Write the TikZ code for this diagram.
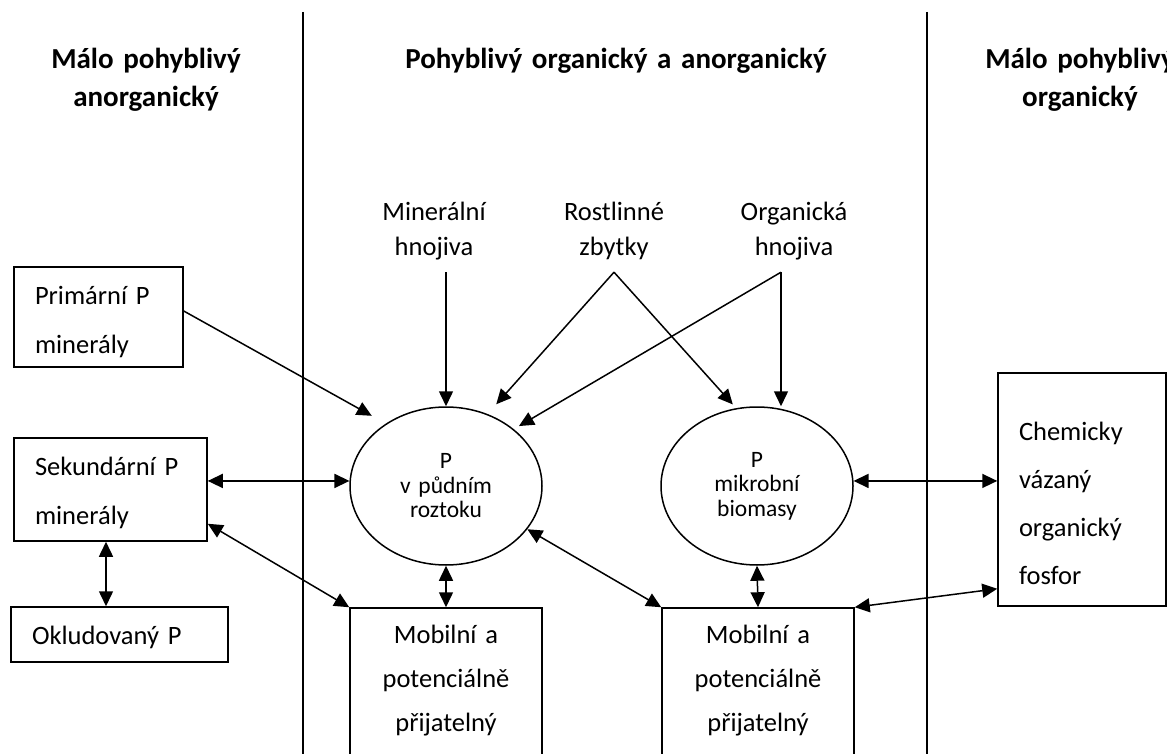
\documentclass[tikz,border=0pt]{standalone}
\usepackage{fontspec}
\setmainfont{Carlito}
\usetikzlibrary{arrows.meta,positioning,calc,shapes.geometric}

\begin{document}
\begin{tikzpicture}[x=1pt,y=-1pt,
  hdr/.style={text width=#1,align=center,inner sep=0pt,anchor=base,
    font=\bfseries\fontsize{29}{38}\selectfont},
  src/.style={text width=140pt,align=center,inner sep=0pt,anchor=base,
    text depth=51pt,font=\fontsize{26.5}{35}\selectfont},
  lbox/.style={draw,line width=1.5pt,align=left,anchor=base,inner xsep=21pt,
    inner ysep=0pt,font=\fontsize{26.5}{49}\selectfont},
  mbox/.style={draw,line width=1.5pt,align=center,anchor=base,text width=172pt,
    inner xsep=10pt,inner ysep=0pt,text height=35pt,text depth=200pt,
    font=\fontsize{26.5}{44}\selectfont},
  pool/.style={ellipse,draw,line width=1.5pt,minimum width=192pt,
    minimum height=158pt,inner sep=0pt,text width=110pt,align=center,
    font=\fontsize{23.5}{24.5}\selectfont},
  arr/.style={line width=1.5pt,-{Triangle[length=15pt,width=14pt]}},
  dbl/.style={line width=1.5pt,
    {Triangle[length=15pt,width=14pt]}-{Triangle[length=15pt,width=14pt]}}
]
  \useasboundingbox (0,0) rectangle (1167,754);
  \clip (0,0) rectangle (1167,754);

  % column separators
  \draw[line width=1.5pt] (303,12) -- (303,760);
  \draw[line width=1.5pt] (927,12) -- (927,760);

  % column headings
  \node[hdr=260pt] (hleft) at (146,69) {Málo pohyblivý\\anorganický};
  \node[hdr=500pt] (hmid) at (616,69) {Pohyblivý organický a anorganický};
  \node[hdr=260pt] (hright) at (1080,69) {Málo pohyblivý\\organický};

  % inputs
  \node[src] (minh) at (434,221) {Minerální\\hnojiva};
  \node[src] (rost) at (614,221) {Rostlinné\\zbytky};
  \node[src] (orgh) at (794,221) {Organická\\hnojiva};
  \coordinate (otop) at ([xshift=-13pt]orgh.south);

  % pools
  \node[pool] (soil) at (446,486) {P\\v půdním\\roztoku};
  \node[pool] (mikro) at (757,486) {P\\mikrobní\\biomasy};

  % boxes
  \node[lbox,text width=127pt,text height=37pt,text depth=63pt]
    (prim) at (98.5,304) {Primární P\\minerály};
  \node[lbox,text width=151pt,text height=37pt,text depth=66pt]
    (sek) at (110.5,475) {Sekundární P\\minerály};
  \node[lbox,text width=175pt,text height=37pt,text depth=18pt]
    (okl) at (119.5,644) {Okludovaný P};
  \node[lbox,text width=126pt,text height=67pt,text depth=166pt,
    font=\fontsize{26.5}{48.3}\selectfont]
    (chem) at (1082,440) {Chemicky\\vázaný\\organický\\fosfor};
  \node[mbox] (mob1) at (446,643) {Mobilní a\\potenciálně\\přijatelný};
  \node[mbox] (mob2) at (758,643) {Mobilní a\\potenciálně\\přijatelný};

  % flows
  \draw[arr] (soil.north |- minh.south) -- (soil.north);
  \draw[arr,shorten >=13pt] (rost.south) -- (soil.60);
  \draw[arr,shorten >=5pt] (rost.south) -- (mikro.105);
  \draw[arr,shorten >=6pt] (otop) -- (soil.40);
  \draw[arr] (otop) -- (otop |- mikro.north);
  \draw[arr,shorten >=16pt] ([yshift=6pt]prim.east) -- (soil.134);
  \draw[dbl] (sek.east |- soil.177) -- (soil.177);
  \draw[dbl] ([yshift=18pt]sek.south east) -- (mob1.north west);
  \draw[dbl] ([xshift=-4.5pt]sek.south) -- ([xshift=-4.5pt]sek.south |- okl.north);
  \draw[dbl] (soil.south) -- (mob1.north);
  \draw[dbl] (soil.-28) -- (mob2.north west);
  \draw[dbl] (mikro.south) -- (mob2.north);
  \draw[dbl] (mikro.3) -- (mikro.3 -| chem.west);
  \draw[dbl] ([yshift=18pt]chem.south west) -- (mob2.north east);
\end{tikzpicture}
\end{document}
